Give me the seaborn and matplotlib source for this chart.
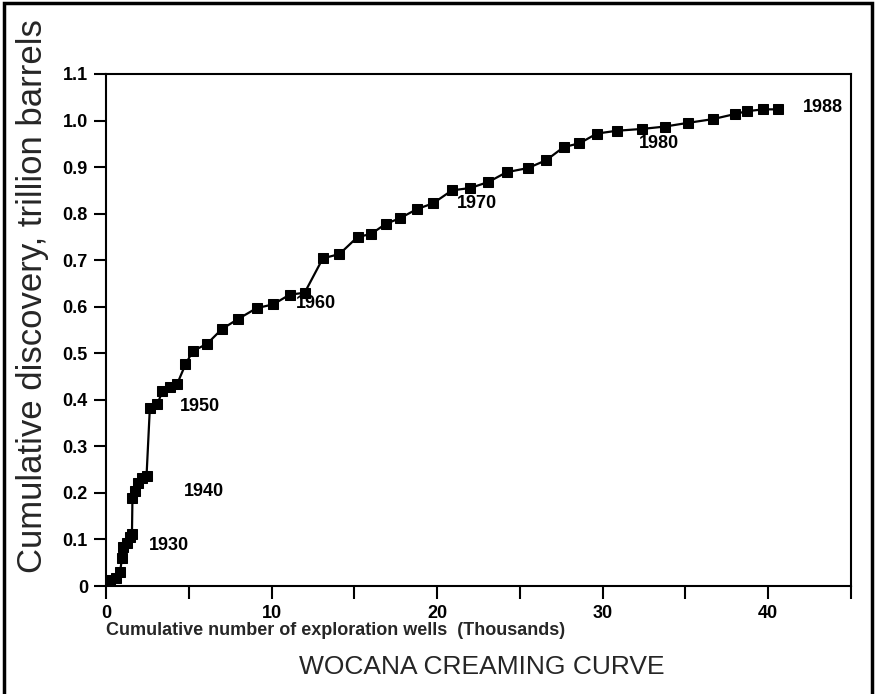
import matplotlib
matplotlib.use("Agg")
import matplotlib.pyplot as plt
import seaborn as sns
import pandas as pd
from matplotlib.patches import Rectangle

# Cumulative exploration wells (thousands)
wells = [0.0, 0.24, 0.6, 0.85, 0.97, 1.03, 1.27, 1.45, 1.57,
         1.6, 1.75, 1.93, 2.15, 2.45,
         2.65, 3.1, 3.4, 3.85, 4.3,
         4.8, 5.25, 6.1, 7.0, 8.0, 9.1, 10.1, 11.1, 12.0,
         13.1, 14.1, 15.2, 16.0, 16.9, 17.75, 18.8, 19.75,
         20.9, 22.0, 23.1, 24.2, 25.5, 26.6,
         27.65, 28.6, 29.65, 30.85, 32.4, 33.75, 35.15, 36.65,
         38.0, 38.7, 39.7, 40.6]
# Cumulative discovery (trillion barrels)
discovery = [0.005, 0.012, 0.018, 0.03, 0.06, 0.084, 0.092, 0.105, 0.112,
             0.19, 0.205, 0.222, 0.232, 0.236,
             0.382, 0.39, 0.418, 0.428, 0.434,
             0.476, 0.505, 0.52, 0.552, 0.574, 0.597, 0.605, 0.626, 0.63,
             0.704, 0.713, 0.75, 0.756, 0.778, 0.79, 0.81, 0.822,
             0.85, 0.855, 0.868, 0.889, 0.898, 0.915,
             0.943, 0.951, 0.972, 0.978, 0.982, 0.987, 0.995, 1.003,
             1.014, 1.02, 1.024, 1.024]

year_labels = ["1930", "1940", "1950", "1960", "1970", "1980", "1988"]
label_x = [3.8, 5.9, 5.7, 12.7, 22.4, 33.4, 43.3]
label_y = [0.088, 0.203, 0.386, 0.607, 0.822, 0.951, 1.027]

df = pd.DataFrame({"wells": wells, "discovery": discovery})

sns.set_style("ticks")
plt.rcParams["font.family"] = ["Liberation Sans", "DejaVu Sans"]

fig = plt.figure(figsize=(8.75, 6.94), dpi=100)
ax = fig.add_axes([0.1211, 0.1556, 0.8515, 0.7378])

sns.lineplot(data=df, x="wells", y="discovery", ax=ax, sort=False,
             color="black", linewidth=1.6, marker="s", markersize=6.8,
             markeredgecolor="black", markerfacecolor="black")

for t, x, y in zip(year_labels, label_x, label_y):
    ax.text(x, y, t, ha="center", va="center", fontsize=13,
            fontweight="bold", color="black")

ax.set_xlim(0, 45)
ax.set_ylim(0, 1.1)
ax.set_xticks([0, 5, 10, 15, 20, 25, 30, 35, 40, 45])
ax.set_xticklabels(["0", "", "10", "", "20", "", "30", "", "40", ""])
ax.set_yticks([i / 10 for i in range(12)])
ax.set_yticklabels(["0"] + [f"{i/10:.1f}" for i in range(1, 12)])
ax.tick_params(axis="both", direction="out", length=9, width=1.5,
               labelsize=13, colors="black")
ax.tick_params(axis="x", pad=5)
ax.tick_params(axis="y", pad=4)
for lbl in ax.get_xticklabels() + ax.get_yticklabels():
    lbl.set_fontweight("bold")
for s in ax.spines.values():
    s.set_visible(True)
    s.set_linewidth(1.5)
    s.set_color("black")

ax.set_xlabel("")
ax.set_ylabel("")
ax.text(0.0, -0.087, "Cumulative number of exploration wells  (Thousands)",
        transform=ax.transAxes, fontsize=13, fontweight="bold",
        ha="left", va="center")
fig.text(0.037, 0.573, "Cumulative discovery, trillion barrels",
         fontsize=25, rotation=90, ha="center", va="center")
fig.text(0.551, 0.039, "WOCANA CREAMING CURVE",
         fontsize=19, ha="center", va="center",
         family=["Liberation Sans Narrow", "Liberation Sans", "DejaVu Sans"])

fig.patches.append(Rectangle((0.004, -0.05), 0.993, 1.046, transform=fig.transFigure,
                             fill=False, edgecolor="black", linewidth=2.5))

fig.savefig("out.png", dpi=100, facecolor="white")
